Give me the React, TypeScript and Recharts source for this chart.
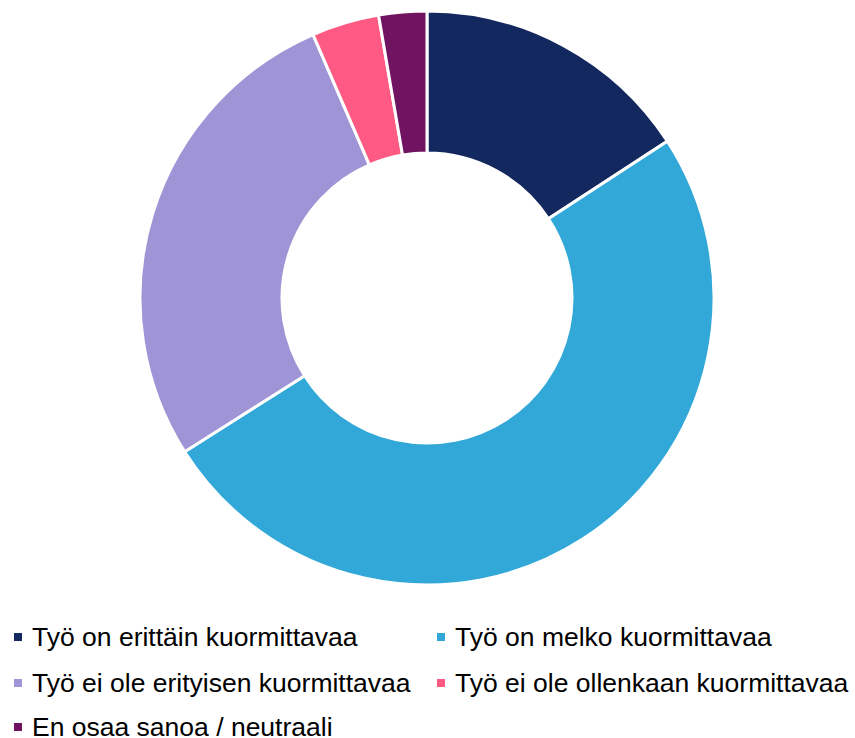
import React from 'react';
import { PieChart, Pie, Cell, Legend } from 'recharts';

const categories = [
  'Työ on erittäin kuormittavaa',
  'Työ on melko kuormittavaa',
  'Työ ei ole erityisen kuormittavaa',
  'Työ ei ole ollenkaan kuormittavaa',
  'En osaa sanoa / neutraali',
];
const shares = [15.8, 50.2, 27.5, 3.8, 2.7];
const colors = ['#13285F', '#32A8D8', '#9E94D6', '#FE5A83', '#701461'];

const data = categories.map((name, i) => ({ name, value: shares[i] }));

const legendPos = [
  { left: 14, top: 627 },
  { left: 437, top: 627 },
  { left: 14, top: 673 },
  { left: 437, top: 673 },
  { left: 14, top: 717 },
];

function renderLegend() {
  return (
    <div style={{ position: 'relative', width: 855, height: 123 }}>
      {categories.map((name, i) => (
        <div
          key={name}
          style={{
            position: 'absolute',
            left: legendPos[i].left,
            top: legendPos[i].top - 615,
            display: 'flex',
            alignItems: 'center',
            fontFamily: '"Liberation Sans", Arial, sans-serif',
            fontSize: 26.5,
            lineHeight: '20px',
            color: '#000',
            whiteSpace: 'nowrap',
          }}
        >
          <span style={{ display: 'inline-block', width: 8, height: 8, background: colors[i], marginRight: 10 }} />
          <span>{name}</span>
        </div>
      ))}
    </div>
  );
}

export default function App() {
  return (
    <div style={{ position: 'absolute', left: 0, top: 0, width: 855, height: 738, background: '#fff', overflow: 'hidden' }}>
      <PieChart width={855} height={738} margin={{ top: 0, right: 0, bottom: 0, left: 0 }}>
        <Pie
          data={data}
          dataKey="value"
          nameKey="name"
          cx={427}
          cy={298}
          innerRadius={145}
          outerRadius={287}
          startAngle={90}
          endAngle={-270}
          stroke="#fff"
          strokeWidth={3}
          isAnimationActive={false}
        >
          {data.map((d, i) => (
            <Cell key={d.name} fill={colors[i]} />
          ))}
        </Pie>
        <Legend
          content={renderLegend}
          wrapperStyle={{ position: 'absolute', left: 0, top: 615, width: 855, height: 123 }}
        />
      </PieChart>
    </div>
  );
}
